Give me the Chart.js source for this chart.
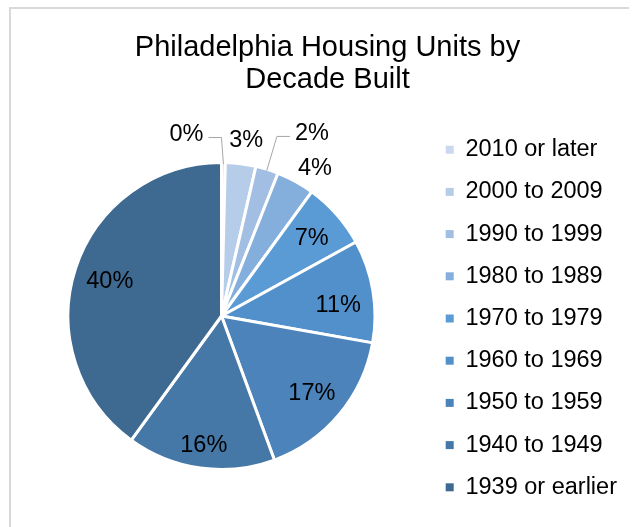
<!DOCTYPE html>
<html>
<head>
<meta charset="utf-8">
<title>Philadelphia Housing Units by Decade Built</title>
<script src="https://cdn.jsdelivr.net/npm/chart.js@4.4.1/dist/chart.umd.min.js"></script>
<style>
  html, body { margin: 0; padding: 0; background: #fff; }
  body { width: 639px; height: 527px; position: relative; overflow: hidden; }
  .frame {
    position: absolute; left: 9px; top: 7px; width: 620px; height: 560px;
    box-sizing: border-box; border-top: 2px solid #d9d9d9; border-left: 2px solid #d9d9d9;
  }
  #chart { position: absolute; left: 0; top: 0; }
</style>
</head>
<body>
<div class="frame"></div>
<canvas id="chart" width="639" height="527"></canvas>
<script>
// share of housing units (%) by decade built, newest first
const decades = [
  "2010 or later",
  "2000 to 2009",
  "1990 to 1999",
  "1980 to 1989",
  "1970 to 1979",
  "1960 to 1969",
  "1950 to 1959",
  "1940 to 1949",
  "1939 or earlier",
];
const shares = [0.4, 3.2, 2.4, 4.0, 7.0, 10.8, 16.6, 15.6, 40.0];
const sliceColors = [
  "#cad9f0", "#b6cdea", "#a2bee3", "#84aedc", "#5b9bd5",
  "#5190cb", "#4b83ba", "#4577a7", "#3e6991",
];

const FONT = "'Liberation Sans', Arial, sans-serif";
const LABEL_SIZE = 23.5;
Chart.defaults.font.family = FONT;

// where excel put each data label:
// [angle from 12 o'clock in degrees (null = middle of the slice), distance as share of radius, leader line]
const labelSpots = [
  [-10.8, 1.217, true],
  [7.9, 1.167, false],
  [26.1, 1.339, true],
  [32.0, 1.149, false],
  [null, 0.783, false],
  [83.8, 0.765, false],
  [null, 0.768, false],
  [null, 0.838, false],
  [null, 0.765, false],
];

const sliceLabels = {
  id: "sliceLabels",
  afterDatasetsDraw(chart) {
    const ctx = chart.ctx;
    const meta = chart.getDatasetMeta(0);
    ctx.save();
    ctx.font = LABEL_SIZE + "px " + FONT;
    ctx.fillStyle = "#000";
    ctx.textAlign = "center";
    ctx.textBaseline = "alphabetic";
    meta.data.forEach((arc, i) => {
      const { x, y, startAngle, endAngle, outerRadius } = arc.getProps(
        ["x", "y", "startAngle", "endAngle", "outerRadius"], true);
      const mid = (startAngle + endAngle) / 2;
      const [deg, dist, leader] = labelSpots[i];
      const a = deg === null ? mid : deg * Math.PI / 180 - Math.PI / 2;
      const lx = x + Math.cos(a) * outerRadius * dist;
      const ly = y + Math.sin(a) * outerRadius * dist;
      const text = Math.round(shares[i]) + "%";
      if (leader) {
        const ex = x + Math.cos(mid) * (outerRadius - 1.5);
        const ey = y + Math.sin(mid) * (outerRadius - 1.5);
        const dir = ex > lx ? 1 : -1;
        const sx = lx + dir * (ctx.measureText(text).width / 2 + 5);
        const elbow = sx + dir * Math.min(Math.abs(ex - sx), 13);
        ctx.beginPath();
        ctx.moveTo(sx, ly + 5);
        ctx.lineTo(elbow, ly + 5);
        ctx.lineTo(ex, ey);
        ctx.strokeStyle = "#a6a6a6";
        ctx.lineWidth = 1;
        ctx.stroke();
      }
      // ly is the middle of the digits
      ctx.fillText(text, lx, ly + LABEL_SIZE * 0.358);
    });
    ctx.restore();
  },
};

// widen the legend column and drop it a little so it lines up like the original
const legendBox = {
  id: "legendBox",
  beforeUpdate(chart) {
    const legend = chart.legend;
    if (!legend || legend._patched) return;
    const fit = legend.fit;
    legend.fit = function () {
      fit.call(this);
      this.width = 212;
    };
    legend._patched = true;
  },
  afterLayout(chart) {
    chart.legend.top += 5;
  },
};

new Chart(document.getElementById("chart"), {
  type: "pie",
  data: {
    labels: decades,
    datasets: [
      {
        data: shares,
        backgroundColor: sliceColors,
        borderColor: "#ffffff",
        borderWidth: 3,
      },
    ],
  },
  options: {
    responsive: false,
    animation: false,
    radius: 153.5,
    layout: { padding: { left: 16, right: 0, top: 0, bottom: 0 } },
    plugins: {
      title: {
        display: true,
        text: ["Philadelphia Housing Units by", "Decade Built"],
        color: "#000",
        font: { size: 29, weight: "normal", lineHeight: 1.1 },
        padding: { top: 32, bottom: 9.2 },
      },
      legend: {
        position: "right",
        fullSize: false,
        labels: {
          boxWidth: 8,
          boxHeight: 8,
          padding: 18.7,
          color: "#000",
          font: { size: 23.5 },
          generateLabels(chart) {
            return Chart.overrides.pie.plugins.legend.labels
              .generateLabels(chart)
              .map((item) => ({ ...item, lineWidth: 0 }));
          },
        },
      },
      tooltip: { enabled: false },
    },
  },
  plugins: [sliceLabels, legendBox],
});
</script>
</body>
</html>
